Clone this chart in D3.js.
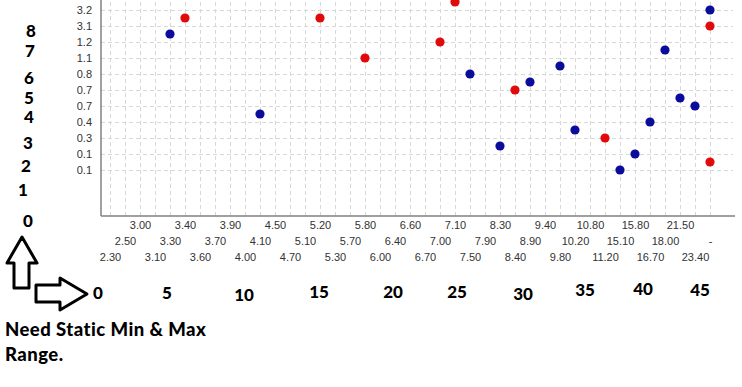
<!DOCTYPE html>
<html>
<head>
<meta charset="utf-8">
<script src="https://cdn.jsdelivr.net/npm/d3@7"></script>
<style>
  body { margin: 0; background: #fff; }
  svg { display: block; }
</style>
</head>
<body>
<script>
// x categories (left to right)
const xCategories = ["2.30","2.50","3.00","3.10","3.30","3.40","3.60","3.70","3.90","4.00",
  "4.10","4.50","4.70","5.10","5.20","5.30","5.70","5.80","6.00","6.40",
  "6.60","6.70","7.00","7.10","7.50","7.90","8.30","8.40","8.90","9.40",
  "9.80","10.20","10.80","11.20","15.10","15.80","16.70","18.00","21.50","23.40","-"];

// y tick labels, bottom to top
const yLabels = ["0.1","0.1","0.3","0.4","0.7","0.7","0.8","1.1","1.2","3.1","3.2"];

// blue series (y in tick steps)
const blueX = ["3.30","4.10","7.50","8.30","8.90","9.80","10.20","15.10","15.80","16.70","18.00","21.50","23.40","-"];
const blueY = [8.5, 3.5, 6, 1.5, 5.5, 6.5, 2.5, 0, 1, 3, 7.5, 4.5, 4, 10];

// red series
const redX = ["3.40","5.20","5.80","7.00","7.10","8.40","11.20","-","-"];
const redY = [9.5, 9.5, 7, 8, 10.5, 5, 2, 9, 0.5];

// hand drawn notes
const leftDigits = ["8","7","6","5","4","3","2","1","0"];
const bottomDigits = ["0","5","10","15","20","25","30","35","40","45"];
const noteLines = ["Need Static Min & Max", "Range."];

const blueColor = "#0b0b9c";
const redColor = "#e00a0a";

var width = 742,
  height = 387;

var plotLeft = 101,
  plotRight = 733,
  plotBottom = 216;

var svg = d3
  .select("body")
  .append("svg")
  .attr("width", width)
  .attr("height", height);

var xScale = d3.scalePoint().domain(xCategories).range([110, 710]);
var yScale = d3.scaleLinear().domain([-2.875, 10.625]).range([plotBottom, 0]);

// grid
svg
  .append("g")
  .attr("transform", `translate(${plotLeft},0)`)
  .call(d3.axisLeft(yScale).tickValues(d3.range(yLabels.length)).tickSize(-(plotRight - plotLeft)).tickFormat(""))
  .call((g) => g.select(".domain").remove())
  .selectAll("line")
  .attr("stroke", "#d8d8d8")
  .attr("stroke-dasharray", "4,3");

svg
  .append("g")
  .attr("transform", `translate(0,${plotBottom})`)
  .call(d3.axisBottom(xScale).tickSize(-plotBottom).tickFormat(""))
  .call((g) => g.select(".domain").remove())
  .selectAll("line")
  .attr("stroke", "#d8d8d8")
  .attr("stroke-dasharray", "4,3");

// axis lines
svg.append("line")
  .attr("x1", plotLeft).attr("x2", plotLeft)
  .attr("y1", 0).attr("y2", plotBottom)
  .attr("stroke", "#808080").attr("stroke-width", 1.5);

svg.append("line")
  .attr("x1", plotLeft).attr("x2", plotRight + 2)
  .attr("y1", plotBottom).attr("y2", plotBottom)
  .attr("stroke", "#808080").attr("stroke-width", 1.5);

// y labels
var yAxis = svg
  .append("g")
  .attr("transform", `translate(${plotLeft - 9},0)`)
  .call(d3.axisLeft(yScale).tickValues(d3.range(yLabels.length)).tickSize(0).tickPadding(0).tickFormat((i) => yLabels[i]));
yAxis.select(".domain").remove();
yAxis.selectAll("text")
  .attr("fill", "#333")
  .style("font-family", "'Liberation Sans', Arial, sans-serif")
  .style("font-size", "11px");

// x labels in three staggered rows
var xAxis = svg
  .append("g")
  .attr("transform", `translate(0,${plotBottom})`)
  .call(d3.axisBottom(xScale).tickSize(0).tickPadding(0));
xAxis.select(".domain").remove();
xAxis.selectAll("text")
  .attr("fill", "#333")
  .attr("dy", null)
  .attr("y", (d, i) => [45, 29, 13][i % 3])
  .style("font-family", "'Liberation Sans', Arial, sans-serif")
  .style("font-size", "11px");

// points
var blueData = blueX.map((c, i) => ({ cat: c, val: blueY[i] }));
var redData = redX.map((c, i) => ({ cat: c, val: redY[i] }));

svg.selectAll(".blue")
  .data(blueData)
  .enter()
  .append("circle")
  .attr("class", "blue")
  .attr("cx", (d) => xScale(d.cat))
  .attr("cy", (d) => yScale(d.val))
  .attr("r", 4.6)
  .attr("fill", blueColor);

svg.selectAll(".red")
  .data(redData)
  .enter()
  .append("circle")
  .attr("class", "red")
  .attr("cx", (d) => xScale(d.cat))
  .attr("cy", (d) => yScale(d.val))
  .attr("r", 4.6)
  .attr("fill", redColor);

// notes drawn over the screenshot
const noteFont = "Lato, 'Open Sans', sans-serif";
const leftDigitPos = [[31, 31], [30, 51], [29, 78], [29, 98], [29, 117], [28, 143], [26, 166], [23, 190], [28, 221]];
const bottomDigitPos = [[98, 293], [167, 293], [244, 295], [319, 292], [393, 292], [457, 292], [523, 294], [585, 290], [643, 289], [700, 290]];

svg.selectAll(".ldigit")
  .data(leftDigits)
  .enter()
  .append("text")
  .attr("class", "ldigit")
  .attr("x", (d, i) => leftDigitPos[i][0])
  .attr("y", (d, i) => leftDigitPos[i][1])
  .attr("dy", "0.36em")
  .attr("text-anchor", "middle")
  .style("font-family", noteFont)
  .style("font-weight", "900")
  .style("font-size", "17px")
  .text((d) => d);

svg.selectAll(".bdigit")
  .data(bottomDigits)
  .enter()
  .append("text")
  .attr("class", "bdigit")
  .attr("x", (d, i) => bottomDigitPos[i][0])
  .attr("y", (d, i) => bottomDigitPos[i][1])
  .attr("dy", "0.36em")
  .attr("text-anchor", "middle")
  .style("font-family", noteFont)
  .style("font-weight", "900")
  .style("font-size", "17px")
  .text((d) => d);

svg.selectAll(".note")
  .data(noteLines)
  .enter()
  .append("text")
  .attr("class", "note")
  .attr("x", 5)
  .attr("y", (d, i) => 336 + i * 25)
  .style("font-family", noteFont)
  .style("font-weight", "900")
  .style("font-size", "18.5px")
  .style("letter-spacing", "0.45px")
  .text((d) => d);

// arrows
svg.append("path")
  .attr("d", "M22,237 L37,263 L29,263 L29,288 L14,288 L14,263 L7,263 Z")
  .attr("fill", "#fff").attr("stroke", "#000").attr("stroke-width", 3)
  .attr("stroke-linejoin", "round");

svg.append("path")
  .attr("d", "M36,285 L60,285 L60,278 L87,294 L60,310 L60,302 L36,302 Z")
  .attr("fill", "#fff").attr("stroke", "#000").attr("stroke-width", 3)
  .attr("stroke-linejoin", "round");
</script>
</body>
</html>
